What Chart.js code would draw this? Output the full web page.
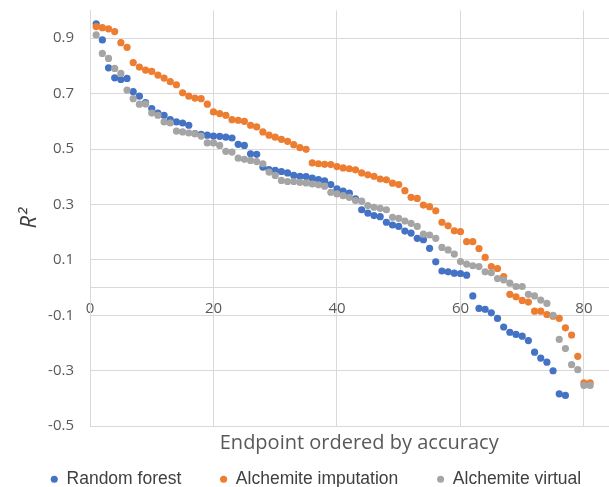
<!DOCTYPE html>
<html>
<head>
<meta charset="utf-8">
<script src="https://cdn.jsdelivr.net/npm/chart.js@4.4.1/dist/chart.umd.min.js"></script>
<style>
  html, body { margin: 0; padding: 0; background: #fff; overflow: hidden; }
  #wrap { width: 609px; height: 487px; overflow: hidden; }
  canvas { display: block; }
</style>
</head>
<body>
<div id="wrap"><canvas id="chart" width="632" height="498"></canvas></div>
<script>
// R2 per endpoint, each series sorted by accuracy
const randomForest = [
  0.952, 0.894, 0.793, 0.757, 0.751, 0.755, 0.707, 0.691, 0.668, 0.646,
  0.630, 0.622, 0.606, 0.598, 0.594, 0.586, 0.556, 0.553, 0.550, 0.547,
  0.546, 0.543, 0.540, 0.517, 0.513, 0.483, 0.481, 0.435, 0.426, 0.423,
  0.419, 0.414, 0.405, 0.402, 0.401, 0.395, 0.390, 0.385, 0.372, 0.356,
  0.348, 0.341, 0.320, 0.281, 0.269, 0.260, 0.256, 0.236, 0.226, 0.221,
  0.204, 0.197, 0.178, 0.173, 0.142, 0.093, 0.060, 0.057, 0.052, 0.051,
  0.045, -0.030, -0.075, -0.078, -0.091, -0.111, -0.142, -0.161, -0.169, -0.175,
  -0.191, -0.233, -0.254, -0.269, -0.300, -0.383, -0.389
];
const alchemiteImputation = [
  0.942, 0.938, 0.934, 0.924, 0.884, 0.867, 0.812, 0.796, 0.785, 0.780,
  0.767, 0.756, 0.743, 0.732, 0.703, 0.691, 0.684, 0.682, 0.662, 0.634,
  0.628, 0.622, 0.606, 0.604, 0.600, 0.586, 0.580, 0.562, 0.550, 0.543,
  0.535, 0.528, 0.516, 0.505, 0.499, 0.450, 0.447, 0.445, 0.444, 0.437,
  0.432, 0.429, 0.425, 0.414, 0.407, 0.402, 0.392, 0.389, 0.377, 0.372,
  0.350, 0.326, 0.322, 0.298, 0.292, 0.277, 0.236, 0.223, 0.205, 0.202,
  0.166, 0.166, 0.141, 0.109, 0.076, 0.069, 0.040, -0.024, -0.033, -0.046,
  -0.052, -0.085, -0.085, -0.097, -0.103, -0.111, -0.145, -0.171, -0.248, -0.344,
  -0.344
];
const alchemiteVirtual = [
  0.912, 0.845, 0.827, 0.791, 0.773, 0.713, 0.682, 0.662, 0.663, 0.630,
  0.622, 0.598, 0.594, 0.565, 0.562, 0.558, 0.555, 0.547, 0.522, 0.522,
  0.513, 0.492, 0.489, 0.467, 0.463, 0.459, 0.455, 0.447, 0.417, 0.405,
  0.387, 0.383, 0.383, 0.380, 0.378, 0.374, 0.371, 0.366, 0.344, 0.338,
  0.332, 0.326, 0.314, 0.312, 0.296, 0.290, 0.286, 0.281, 0.254, 0.250,
  0.240, 0.232, 0.221, 0.193, 0.190, 0.178, 0.145, 0.136, 0.121, 0.094,
  0.085, 0.079, 0.076, 0.057, 0.054, 0.033, 0.028, 0.016, 0.004, 0.004,
  -0.024, -0.030, -0.045, -0.057, -0.100, -0.187, -0.220, -0.278, -0.296, -0.353,
  -0.353
];

const seriesNames = ['Random forest', 'Alchemite imputation', 'Alchemite virtual'];
const seriesColors = ['#4472C4', '#ED7D31', '#A5A5A5'];
const yTicks = [-0.5, -0.3, -0.1, 0.1, 0.3, 0.5, 0.7, 0.9];
const xTicks = [0, 20, 40, 60, 80];

const gridColor = '#d9d9d9';
const labelColor = '#595959';

// endpoint rank starts at 1
function toPoints(values) {
  return values.map((v, i) => ({ x: i + 1, y: v }));
}

function makeDataset(idx, values) {
  return {
    label: seriesNames[idx],
    data: toPoints(values),
    backgroundColor: seriesColors[idx],
    borderColor: seriesColors[idx],
    borderWidth: 0,
    pointRadius: 3.6,
    pointHoverRadius: 3.6,
    pointStyle: 'circle',
    // grey sits on top of orange, orange on top of blue
    order: 3 - idx
  };
}

Chart.defaults.font.family = "'Open Sans', sans-serif";

new Chart(document.getElementById('chart'), {
  type: 'scatter',
  data: {
    datasets: [
      makeDataset(0, randomForest),
      makeDataset(1, alchemiteImputation),
      makeDataset(2, alchemiteVirtual)
    ]
  },
  options: {
    responsive: false,
    animation: false,
    layout: { padding: { top: 10.5, left: 0, right: 0, bottom: 0 } },
    scales: {
      x: {
        type: 'linear',
        min: 0,
        max: 87.2,
        position: { y: 0 },
        afterBuildTicks: function(scale) {
          scale.ticks = xTicks.map(v => ({ value: v }));
        },
        ticks: {
          color: labelColor,
          font: { size: 15 },
          padding: 12,
          maxRotation: 0
        },
        grid: { color: gridColor, drawTicks: false },
        border: { color: gridColor }
      },
      y: {
        min: -0.5,
        max: 1.0,
        afterBuildTicks: function(scale) {
          scale.ticks = yTicks.map(v => ({ value: v }));
        },
        afterFit: function(scale) {
          // fixed axis width, and no extra room above the top tick
          scale.width = 90;
          scale.paddingTop = 0;
          scale.paddingBottom = 0;
        },
        ticks: {
          color: labelColor,
          font: { size: 15 },
          padding: 16,
          callback: function(value) {
            return value.toFixed(1);
          }
        },
        grid: { color: gridColor, drawTicks: false },
        border: { color: gridColor },
        title: {
          display: true,
          text: 'R²',
          color: '#404040',
          font: { size: 22, style: 'italic' },
          padding: { top: 17, bottom: 0 }
        }
      }
    },
    plugins: {
      tooltip: { enabled: false },
      title: {
        display: true,
        text: 'Endpoint ordered by accuracy',
        position: 'bottom',
        fullSize: false,
        color: labelColor,
        font: { size: 20, weight: 'normal' },
        padding: { top: 5.3, bottom: -23.8 }
      },
      legend: {
        position: 'bottom',
        weight: 3000,
        labels: {
          color: '#404040',
          font: { family: "'Liberation Sans', Arial, sans-serif", size: 17.5 },
          usePointStyle: true,
          boxWidth: 7,
          boxHeight: 5,
          padding: 38.8,
          sort: (a, b) => a.datasetIndex - b.datasetIndex
        }
      }
    }
  }
});
</script>
</body>
</html>
